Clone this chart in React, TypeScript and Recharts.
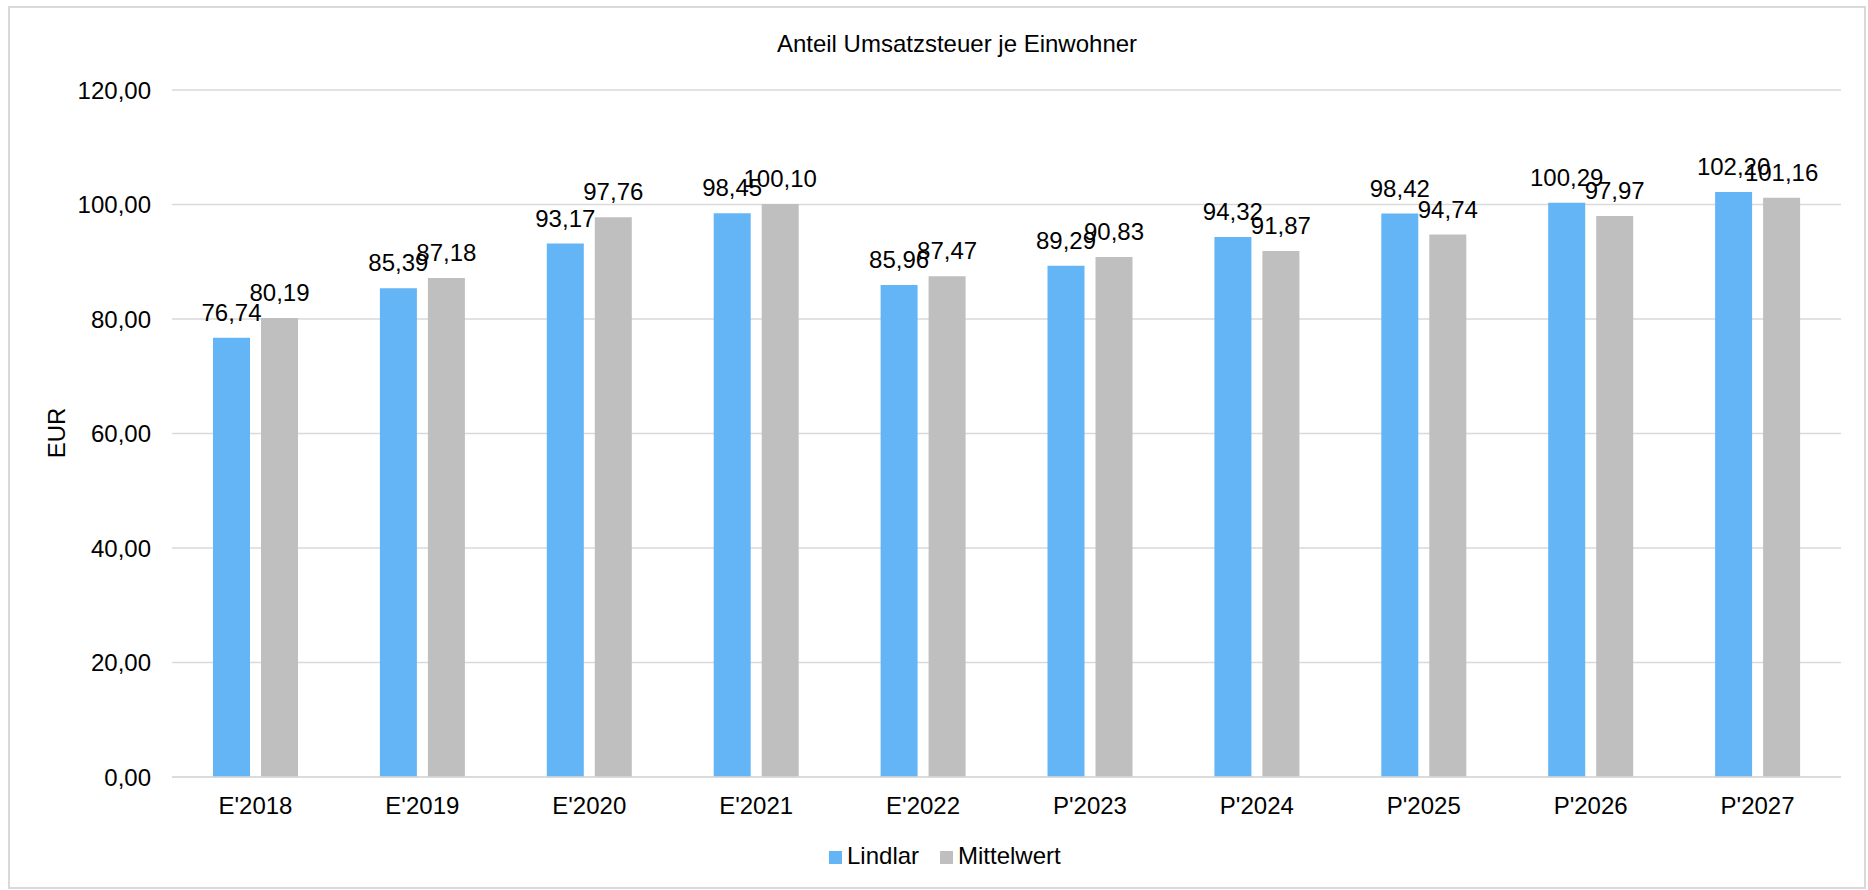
import { BarChart, Bar, XAxis, YAxis, CartesianGrid, Legend, LabelList } from "recharts"

const categories = ["E'2018", "E'2019", "E'2020", "E'2021", "E'2022", "P'2023", "P'2024", "P'2025", "P'2026", "P'2027"]
const lindlar = [76.74, 85.39, 93.17, 98.45, 85.96, 89.29, 94.32, 98.42, 100.29, 102.2]
const mittelwert = [80.19, 87.18, 97.76, 100.1, 87.47, 90.83, 91.87, 94.74, 97.97, 101.16]
const yTicks = [0, 20, 40, 60, 80, 100, 120]

const FONT = "'Liberation Sans', Arial, sans-serif"
const FS = 24
const BLUE = "#64B5F6"
const GRAY = "#BFBFBF"
const GRID = "#D9D9D9"

const fmt = (v: unknown) => Number(v).toFixed(2).replace(".", ",")

function LegendBox() {
  return (
    <svg width={260} height={34} style={{ display: "block" }}>
      <rect x={0} y={11} width={13} height={13} fill={BLUE} />
      <text x={18} y={24} fontFamily={FONT} fontSize={FS} fill="#000">Lindlar</text>
      <rect x={111} y={11} width={13} height={13} fill={GRAY} />
      <text x={129} y={24} fontFamily={FONT} fontSize={FS} fill="#000">Mittelwert</text>
    </svg>
  )
}

export default function App() {
  const data = categories.map((c, i) => ({ name: c, lindlar: lindlar[i], mittelwert: mittelwert[i] }))

  return (
    <div style={{ position: "absolute", left: 0, top: 0, width: 1868, height: 890, background: "#fff", fontFamily: FONT }}>
      <div
        style={{
          position: "absolute",
          left: 8,
          top: 6,
          width: 1858,
          height: 883,
          border: `2px solid ${GRID}`,
          boxSizing: "border-box",
        }}
      />
      <BarChart
        width={1868}
        height={890}
        data={data}
        margin={{ top: 90, right: 27, bottom: 49, left: 72 }}
        barGap={11}
        barCategoryGap={41}
        style={{ position: "absolute", left: 0, top: 0 }}
      >
        <CartesianGrid vertical={false} stroke={GRID} strokeWidth={1.5} />
        <XAxis
          dataKey="name"
          height={30}
          tickLine={false}
          tickSize={0}
          tickMargin={20}
          axisLine={{ stroke: GRID, strokeWidth: 1.5 }}
          tick={{ fill: "#000", fontSize: FS, fontFamily: FONT }}
          interval={0}
        />
        <YAxis
          width={100}
          domain={[0, 120]}
          ticks={yTicks}
          tickFormatter={fmt}
          tickLine={false}
          axisLine={false}
          tickSize={0}
          tickMargin={21}
          tick={{ fill: "#000", fontSize: FS, fontFamily: FONT }}
          label={{
            content: () => (
              <g>
                <text
                  x={56}
                  y={433}
                  transform="rotate(-90 56 433)"
                  textAnchor="middle"
                  dominantBaseline="central"
                  fontFamily={FONT}
                  fontSize={FS}
                  fill="#000"
                >
                  EUR
                </text>
                <text x={957} y={52} textAnchor="middle" fontFamily={FONT} fontSize={FS} fill="#000">
                  Anteil Umsatzsteuer je Einwohner
                </text>
              </g>
            ),
          }}
        />
        <Legend
          content={() => <LegendBox />}
          wrapperStyle={{ position: "absolute", left: 829, top: 840, width: 260, height: 34 }}
        />
        <Bar dataKey="lindlar" name="Lindlar" fill={BLUE} isAnimationActive={false}>
          <LabelList dataKey="lindlar" position="top" offset={17} formatter={fmt} fill="#000" fontSize={FS} fontFamily={FONT} />
        </Bar>
        <Bar dataKey="mittelwert" name="Mittelwert" fill={GRAY} isAnimationActive={false}>
          <LabelList dataKey="mittelwert" position="top" offset={17} formatter={fmt} fill="#000" fontSize={FS} fontFamily={FONT} />
        </Bar>
      </BarChart>
    </div>
  )
}
